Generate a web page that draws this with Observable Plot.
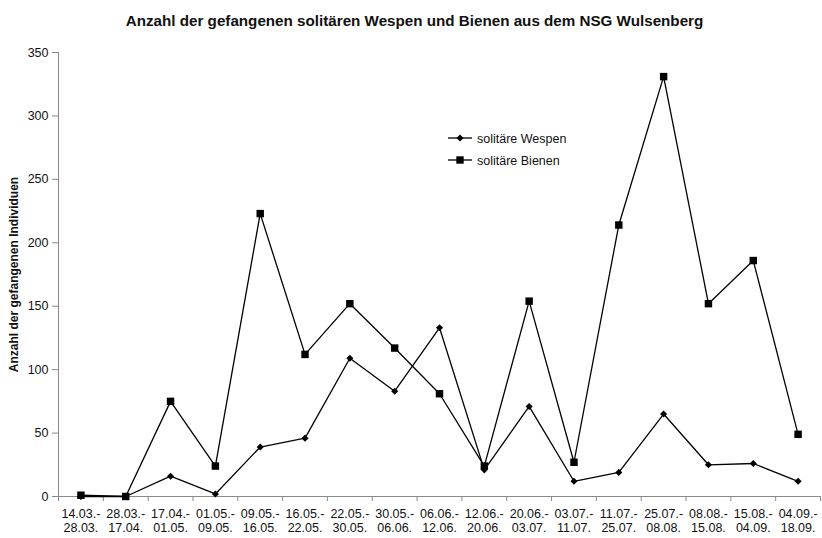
<!DOCTYPE html>
<html>
<head>
<meta charset="utf-8">
<script src="https://cdn.jsdelivr.net/npm/d3@7"></script>
<script src="https://cdn.jsdelivr.net/npm/@observablehq/plot@0.6"></script>
<style>
  html, body { margin: 0; padding: 0; background: #ffffff; }
  #wrap { position: relative; width: 822px; height: 538px; font-family: "Liberation Sans", Arial, sans-serif; }
  #legend { position: absolute; left: 445px; top: 128px; }
</style>
</head>
<body>
<div id="wrap"><div id="chart"></div><div id="legend"></div></div>
<script>
// ---- data ----
const periods = [
  "14.03.-\n28.03.", "28.03.-\n17.04.", "17.04.-\n01.05.", "01.05.-\n09.05.",
  "09.05.-\n16.05.", "16.05.-\n22.05.", "22.05.-\n30.05.", "30.05.-\n06.06.",
  "06.06.-\n12.06.", "12.06.-\n20.06.", "20.06.-\n03.07.", "03.07.-\n11.07.",
  "11.07.-\n25.07.", "25.07.-\n08.08.", "08.08.-\n15.08.", "15.08.-\n04.09.",
  "04.09.-\n18.09."
];
const wespen = [0, 0, 16, 2, 39, 46, 109, 83, 133, 21, 71, 12, 19, 65, 25, 26, 12];
const bienen = [1, 0, 75, 24, 223, 112, 152, 117, 81, 24, 154, 27, 214, 331, 152, 186, 49];
const yTicks = [0, 50, 100, 150, 200, 250, 300, 350];
const seriesNames = ["solitäre Wespen", "solitäre Bienen"];
const titleText = "Anzahl der gefangenen solitären Wespen und Bienen aus dem NSG Wulsenberg";
const yLabel = "Anzahl der gefangenen Individuen";

// ---- table ----
const rowsW = wespen.map((v, i) => ({ i: i + 0.5, value: v, series: seriesNames[0] }));
const rowsB = bienen.map((v, i) => ({ i: i + 0.5, value: v, series: seriesNames[1] }));
const boundaries = d3.range(periods.length + 1);
const centers = periods.map((p, i) => i + 0.5);

const font = "Liberation Sans, Arial, sans-serif";
const axisGray = "#8a8a8a";

const chart = Plot.plot({
  width: 822,
  height: 538,
  marginTop: 52,
  marginBottom: 42,
  marginLeft: 58,
  marginRight: 2,
  style: { fontFamily: font, background: "#ffffff", color: "#111" },
  x: { type: "linear", domain: [0, periods.length] },
  y: { domain: [0, 350] },
  marks: [
    Plot.ruleY([0], { stroke: axisGray, strokeWidth: 1 }),
    Plot.ruleX([0], { stroke: axisGray, strokeWidth: 1 }),
    Plot.axisY({ ticks: yTicks, tickSize: 6, tickPadding: 4, fontSize: 12.5, stroke: axisGray, fill: "#111", label: null }),
    Plot.axisX({ ticks: boundaries, tickSize: 5, tickFormat: () => "", stroke: axisGray, label: null }),
    Plot.axisX({ ticks: centers, tickSize: 0, tickPadding: 12, fontSize: 12.5, lineHeight: 1.12,
      tickFormat: d => periods[Math.round(d - 0.5)], fill: "#111", label: null }),
    Plot.line(rowsB, { x: "i", y: "value", stroke: "#000", strokeWidth: 1.3 }),
    Plot.line(rowsW, { x: "i", y: "value", stroke: "#000", strokeWidth: 1.3 }),
    Plot.dot(rowsB, { x: "i", y: "value", symbol: "square", r: 4.2, fill: "#000", stroke: "none" }),
    Plot.dot(rowsW, { x: "i", y: "value", symbol: "diamond2", r: 3.2, fill: "#000", stroke: "none" }),
    Plot.text([titleText], { frameAnchor: "top", dx: -25, dy: -37, fontSize: 15.2, fontWeight: "bold", fill: "#111" }),
    Plot.text([yLabel], { frameAnchor: "left", textAnchor: "middle", rotate: -90, dx: -44, fontSize: 12, fontWeight: "bold", fill: "#111" })
  ]
});
document.getElementById("chart").appendChild(chart);

// ---- legend ----
const lg = d3.select("#legend").append("svg").attr("width", 150).attr("height", 44)
  .style("font-family", font);
const symW = d3.symbol(d3.symbolDiamond2, 31)();
const symB = d3.symbol(d3.symbolSquare, 55)();
seriesNames.forEach((name, k) => {
  const g = lg.append("g").attr("transform", `translate(0, ${10 + k * 22})`);
  g.append("line").attr("x1", 3).attr("x2", 27).attr("y1", 0).attr("y2", 0).attr("stroke", "#000").attr("stroke-width", 1.3);
  g.append("path").attr("d", k === 0 ? symW : symB).attr("transform", "translate(15,0)").attr("fill", "#000");
  g.append("text").attr("x", 32).attr("y", 4.5).attr("font-size", 12.5).attr("fill", "#111").text(name);
});
</script>
</body>
</html>
